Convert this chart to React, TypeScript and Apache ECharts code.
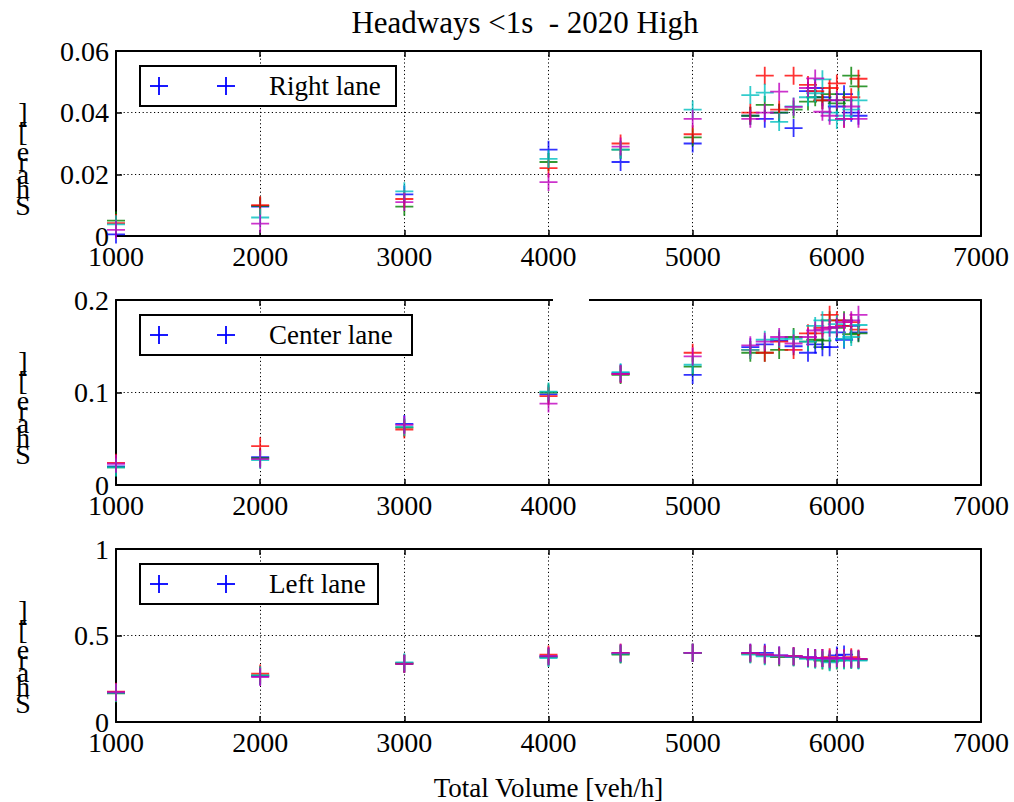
import React, { useEffect, useRef } from "react";
import * as echarts from "echarts";

// ---------- data ----------
const volumes = [1000, 2000, 3000, 4000, 4500, 5000, 5400, 5500, 5600, 5700, 5800, 5850, 5900, 5950, 6000, 6050, 6100, 6150];

const rightBlue = [0.0005, 0.0095, 0.0135, 0.028, 0.024, 0.030, 0.039, 0.038, 0.040, 0.035, 0.047, 0.048, 0.045, 0.044, 0.042, 0.046, 0.040, 0.039];
const rightGreen = [0.005, 0.0098, 0.0095, 0.024, 0.028, 0.032, 0.039, 0.0425, 0.040, 0.041, 0.0436, 0.045, 0.044, 0.046, 0.043, 0.044, 0.052, 0.0485];
const rightRed = [0.0042, 0.010, 0.012, 0.022, 0.030, 0.033, 0.040, 0.052, 0.041, 0.052, 0.049, 0.047, 0.044, 0.048, 0.0495, 0.038, 0.045, 0.051];
const rightCyan = [0.0038, 0.006, 0.0145, 0.025, 0.028, 0.041, 0.0457, 0.0465, 0.037, 0.042, 0.045, 0.0463, 0.0508, 0.040, 0.0376, 0.039, 0.041, 0.044];
const rightMagenta = [0.002, 0.004, 0.011, 0.0175, 0.029, 0.038, 0.038, 0.040, 0.0468, 0.0419, 0.048, 0.0511, 0.0403, 0.039, 0.0441, 0.038, 0.042, 0.038];

const centerBlue = [0.02, 0.03, 0.066, 0.098, 0.121, 0.119, 0.149, 0.152, 0.156, 0.150, 0.143, 0.152, 0.149, 0.149, 0.165, 0.157, 0.172, 0.165];
const centerGreen = [0.019, 0.029, 0.062, 0.10, 0.119, 0.128, 0.143, 0.143, 0.146, 0.160, 0.155, 0.157, 0.156, 0.178, 0.170, 0.178, 0.163, 0.164];
const centerRed = [0.024, 0.042, 0.06, 0.096, 0.12, 0.143, 0.146, 0.143, 0.155, 0.146, 0.164, 0.164, 0.170, 0.184, 0.178, 0.172, 0.176, 0.168];
const centerCyan = [0.019, 0.027, 0.063, 0.101, 0.122, 0.13, 0.146, 0.157, 0.158, 0.158, 0.155, 0.172, 0.178, 0.165, 0.174, 0.158, 0.160, 0.173];
const centerMagenta = [0.023, 0.028, 0.065, 0.088, 0.12, 0.139, 0.151, 0.155, 0.160, 0.153, 0.160, 0.167, 0.168, 0.170, 0.171, 0.176, 0.178, 0.184];

const leftBlue = [0.17, 0.265, 0.34, 0.38, 0.395, 0.40, 0.40, 0.40, 0.385, 0.38, 0.375, 0.37, 0.37, 0.36, 0.385, 0.39, 0.365, 0.36];
const leftGreen = [0.165, 0.27, 0.335, 0.375, 0.39, 0.40, 0.395, 0.385, 0.375, 0.375, 0.37, 0.365, 0.355, 0.35, 0.355, 0.36, 0.36, 0.36];
const leftRed = [0.175, 0.28, 0.34, 0.39, 0.40, 0.40, 0.395, 0.39, 0.38, 0.38, 0.37, 0.365, 0.37, 0.375, 0.365, 0.365, 0.375, 0.365];
const leftCyan = [0.168, 0.27, 0.345, 0.37, 0.395, 0.40, 0.39, 0.38, 0.38, 0.375, 0.365, 0.36, 0.36, 0.345, 0.36, 0.355, 0.36, 0.355];
const leftMagenta = [0.172, 0.26, 0.335, 0.38, 0.40, 0.40, 0.40, 0.39, 0.385, 0.38, 0.375, 0.37, 0.37, 0.365, 0.37, 0.37, 0.365, 0.365];

const xTicks = { min: 1000, max: 7000, interval: 1000 };
const panelNames = ["Right lane", "Center lane", "Left lane"];
const yRanges = [
  { min: 0, max: 0.06, interval: 0.02 },
  { min: 0, max: 0.2, interval: 0.1 },
  { min: 0, max: 1, interval: 0.5 },
];
const panelSeries = [
  [rightBlue, rightGreen, rightRed, rightCyan, rightMagenta],
  [centerBlue, centerGreen, centerRed, centerCyan, centerMagenta],
  [leftBlue, leftGreen, leftRed, leftCyan, leftMagenta],
];
const colors = ["#0000ff", "#008000", "#ff0000", "#00bfbf", "#bf00bf"];
const titleText = "Headways <1s  - 2020 High";
const xName = "Total Volume [veh/h]";
const yNameChars = ["S", "h", "a", "r", "e", " ", "[", "-", "]"];
const yNameAdv = [0.556, 0.5, 0.444, 0.333, 0.444, 0.25, 0.333, 0.333, 0.333];

// ---------- layout ----------
const FAM = "Liberation Serif";
const FONT = '"Liberation Serif", serif';
const FS_TICK = 28;
const FS = 27;
const LEFT = 116;
const RIGHT = 33;
const TOPS = [51, 300, 549];
const H = 185;
const legendWidths = [256, 272, 238];

const PLUS =
  "path://M-1,-0.1 L-0.1,-0.1 L-0.1,-1 L0.1,-1 L0.1,-0.1 L1,-0.1 L1,0.1 L0.1,0.1 L0.1,1 L-0.1,1 L-0.1,0.1 L-1,0.1 Z";

export default function App() {
  const ref = useRef<HTMLDivElement>(null);
  useEffect(() => {
    document.body.style.margin = "0";
    const chart = echarts.init(ref.current!, null, { renderer: "svg" });

    const grids: any[] = [];
    const xAxes: any[] = [];
    const yAxes: any[] = [];
    const series: any[] = [];
    const graphics: any[] = [];

    const axisLine = { show: true, onZero: false, lineStyle: { color: "#000", width: 2 } };
    const axisTick = { show: true, inside: true, length: 6, lineStyle: { color: "#000", width: 1.5 } };
    const splitLine = { show: true, lineStyle: { color: "#000", width: 1, type: [1.2, 2.6] } };
    const label = {
      color: "#000",
      fontSize: FS_TICK,
      fontFamily: FAM,
      formatter: (v: number) => String(v),
    };

    TOPS.forEach((top, p) => {
      grids.push({ left: LEFT, right: RIGHT, top, height: H, containLabel: false });
      xAxes.push({
        type: "value",
        gridIndex: p,
        ...xTicks,
        axisLine,
        axisTick,
        splitLine,
        axisLabel: { ...label, margin: 6 },
        ...(p === 2
          ? {
              name: xName,
              nameLocation: "middle",
              nameGap: 52,
              nameTextStyle: { color: "#000", fontSize: FS, fontFamily: FAM },
            }
          : {}),
      });
      xAxes.push({
        type: "value",
        gridIndex: p,
        position: "top",
        ...xTicks,
        axisLine,
        axisTick,
        splitLine: { show: false },
        axisLabel: { show: false },
      });
      yAxes.push({
        type: "value",
        gridIndex: p,
        ...yRanges[p],
        axisLine,
        axisTick,
        splitLine,
        axisLabel: { ...label, margin: 7 },
      });
      yAxes.push({
        type: "value",
        gridIndex: p,
        position: "right",
        ...yRanges[p],
        axisLine,
        axisTick,
        splitLine: { show: false },
        axisLabel: { show: false },
      });
      panelSeries[p].forEach((vals, c) => {
        series.push({
          type: "scatter",
          xAxisIndex: p * 2,
          yAxisIndex: p * 2,
          symbol: PLUS,
          symbolSize: 18,
          itemStyle: { color: colors[c] },
          data: volumes.map((x, i) => [x, vals[i]]),
          z: 3 + c,
        });
      });

      // legend box
      const ly = top + 15;
      graphics.push({
        type: "rect",
        z: 100,
        shape: { x: 140, y: ly, width: legendWidths[p], height: 40 },
        style: { fill: "#fff", stroke: "#000", lineWidth: 2 },
      });
      [159, 226].forEach((cx) => {
        graphics.push({
          type: "line",
          z: 101,
          shape: { x1: cx - 9, y1: ly + 20, x2: cx + 9, y2: ly + 20 },
          style: { stroke: "#0000ff", lineWidth: 1.8 },
        });
        graphics.push({
          type: "line",
          z: 101,
          shape: { x1: cx, y1: ly + 11, x2: cx, y2: ly + 29 },
          style: { stroke: "#0000ff", lineWidth: 1.8 },
        });
      });
      graphics.push({
        type: "text",
        z: 101,
        x: 269,
        y: ly + 20,
        style: {
          text: panelNames[p],
          font: `${FS}px ${FONT}`,
          fill: "#000",
          textAlign: "left",
          textVerticalAlign: "middle",
        },
      });

      // garbled vertical y label (glyphs stacked upright)
      const baseY = top + 168;
      let cum = 0;
      yNameChars.forEach((ch, k) => {
        graphics.push({
          type: "text",
          z: 101,
          x: 23,
          y: baseY - cum * 29,
          style: {
            text: ch,
            font: `28px ${FONT}`,
            fill: "#000",
            textAlign: "center",
            textVerticalAlign: "bottom",
          },
        });
        cum += yNameAdv[k];
      });
    });

    // title
    graphics.push({
      type: "text",
      z: 101,
      x: 525,
      y: 22,
      style: {
        text: titleText,
        font: `31px ${FONT}`,
        fill: "#000",
        textAlign: "center",
        textVerticalAlign: "middle",
      },
    });

    // white artifact in the center panel
    graphics.push({
      type: "rect",
      z: 100,
      shape: { x: 553, y: 288, width: 36, height: 40 },
      style: { fill: "#fff" },
    });

    chart.setOption({
      animation: false,
      backgroundColor: "#fff",
      grid: grids,
      xAxis: xAxes,
      yAxis: yAxes,
      series,
      graphic: graphics,
    });
    return () => chart.dispose();
  }, []);
  return <div ref={ref} style={{ width: 1014, height: 802 }} />;
}
